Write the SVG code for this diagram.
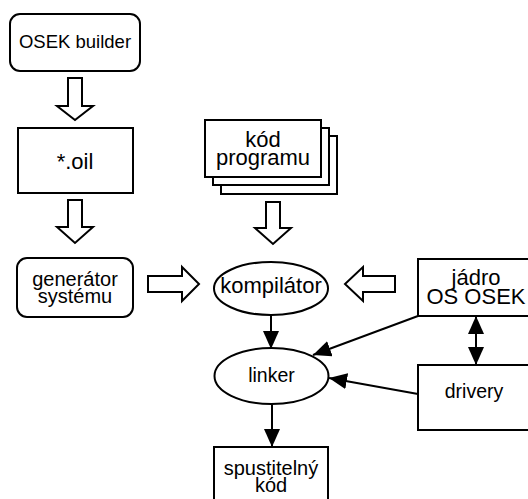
<svg xmlns="http://www.w3.org/2000/svg" width="528" height="499" viewBox="0 0 528 499">
  <style>
    .box { fill: #fff; stroke: #000; stroke-width: 2; }
    .fat { fill: #fff; stroke: #000; stroke-width: 2; stroke-linejoin: miter; }
    .line { fill: none; stroke: #000; stroke-width: 2; }
    text { font-family: "Liberation Sans", Arial, sans-serif; font-size: 20px; fill: #000; text-anchor: middle; }
    .big { font-size: 22px; }
  </style>
  <defs>
    <marker id="head" viewBox="0 0 18 16" refX="18" refY="8" markerWidth="18" markerHeight="16" markerUnits="userSpaceOnUse" orient="auto-start-reverse">
      <path d="M0,0 L18,8 L0,16 Z" fill="#000"/>
    </marker>
  </defs>

  <rect width="528" height="499" fill="#fff"/>

  <!-- nodes -->
  <g id="osek-builder">
    <rect class="box" x="10" y="14" width="130" height="57" rx="10"/>
    <text x="75" y="48" style="font-size:18.5px">OSEK builder</text>
  </g>
  <g id="oil">
    <rect class="box" x="18" y="128" width="115" height="65"/>
    <text x="75" y="169" class="big">*.oil</text>
  </g>
  <g id="kod-programu">
    <rect class="box" x="221" y="136" width="116" height="58"/>
    <rect class="box" x="213" y="128" width="116" height="57"/>
    <rect class="box" x="205" y="120" width="116" height="57"/>
    <text class="big"><tspan x="263" y="147">kód</tspan><tspan x="263" y="165">programu</tspan></text>
  </g>
  <g id="generator">
    <rect class="box" x="17" y="258" width="116" height="59" rx="10"/>
    <text><tspan x="75" y="286">generátor</tspan><tspan x="75" y="303">systému</tspan></text>
  </g>
  <g id="kompilator">
    <ellipse class="box" cx="271" cy="288.5" rx="57" ry="26.5"/>
    <text x="271" y="293" class="big">kompilátor</text>
  </g>
  <g id="jadro">
    <rect class="box" x="418" y="259" width="120" height="57"/>
    <text class="big"><tspan x="476" y="285">jádro</tspan><tspan x="476" y="304">OS OSEK</tspan></text>
  </g>
  <g id="linker">
    <ellipse class="box" cx="271.5" cy="376" rx="57" ry="28"/>
    <text x="271.5" y="382" style="font-size:19.5px">linker</text>
  </g>
  <g id="drivery">
    <rect class="box" x="418" y="365" width="120" height="65"/>
    <text x="474" y="398" style="font-size:19.5px">drivery</text>
  </g>
  <g id="spustitelny-kod">
    <rect class="box" x="214" y="447" width="114" height="60"/>
    <text><tspan x="271" y="475">spustitelný</tspan><tspan x="271" y="492">kód</tspan></text>
  </g>

  <!-- connectors -->
  <g id="connectors">
    <!-- hollow flow arrows -->
    <path class="fat" d="M68,78 H82 V106 H93 L75,120 L57,106 H68 Z"/>
    <path class="fat" d="M68,200 H82 V227 H93 L75,243 L57,227 H68 Z"/>
    <path class="fat" d="M266,202 H280 V228 H291 L273,244 L255,228 H266 Z"/>
    <path class="fat" d="M148,276 H182 V267 L199,284 L182,301 V292 H148 Z"/>
    <path class="fat" d="M395,276 H363 V267 L345,284 L363,301 V292 H395 Z"/>
    <!-- solid arrows -->
    <line class="line" x1="271" y1="315" x2="271" y2="349" marker-end="url(#head)"/>
    <line class="line" x1="418" y1="316" x2="313" y2="355" marker-end="url(#head)"/>
    <line class="line" x1="418" y1="394" x2="329" y2="378" marker-end="url(#head)"/>
    <line class="line" x1="476" y1="316" x2="476" y2="365" marker-start="url(#head)" marker-end="url(#head)"/>
    <line class="line" x1="272" y1="404" x2="272" y2="447" marker-end="url(#head)"/>
  </g>
</svg>
